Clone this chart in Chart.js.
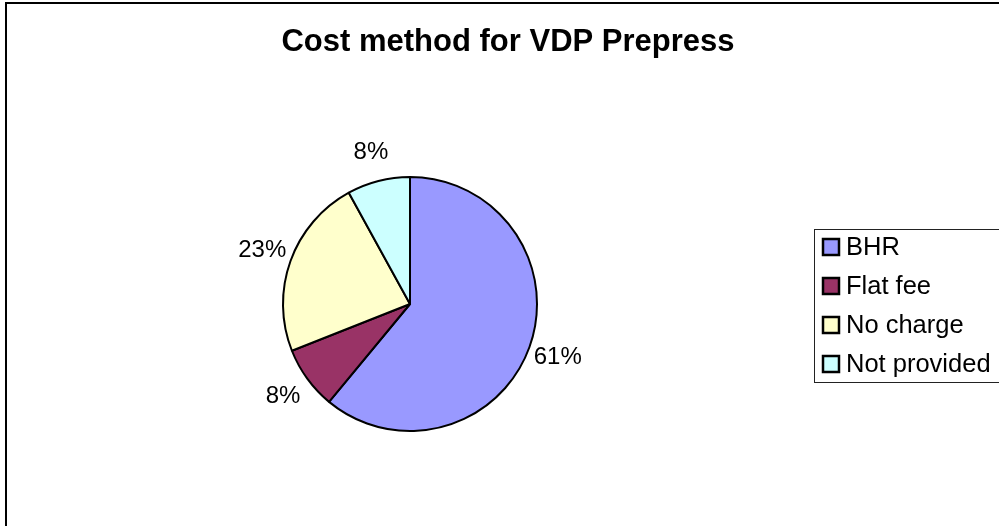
<!DOCTYPE html>
<html>
<head>
<meta charset="utf-8">
<script src="https://cdn.jsdelivr.net/npm/chart.js@4"></script>
<style>
  html, body { margin: 0; padding: 0; background: #fff; }
</style>
</head>
<body>
<canvas id="myChart" width="999" height="526"></canvas>
<script>
// 区分と割合 (%)
const labels = ['BHR', 'Flat fee', 'No charge', 'Not provided']
const shares = [61, 8, 23, 8]
const colors = ['#9999FF', '#993366', '#FFFFCC', '#CCFFFF']
const chartTitle = 'Cost method for VDP Prepress'

const FONT = '"Liberation Sans", Arial, sans-serif'

// 外枠とタイトル
const framePlugin = {
  id: 'frame',
  beforeDraw(chart) {
    const c = chart.ctx
    c.save()
    c.fillStyle = '#fff'
    c.fillRect(0, 0, chart.width, chart.height)
    c.strokeStyle = '#000'
    c.lineWidth = 2
    c.strokeRect(6, 3, 1100, 700)
    c.fillStyle = '#000'
    c.font = 'bold 31px ' + FONT
    c.textAlign = 'center'
    c.textBaseline = 'middle'
    c.fillText(chartTitle, 508, 42)
    c.restore()
  },
}

// 扇形の外側にパーセント表示
const pctPlugin = {
  id: 'pct',
  afterDatasetsDraw(chart) {
    const c = chart.ctx
    const meta = chart.getDatasetMeta(0)
    c.save()
    c.fillStyle = '#000'
    c.font = '24px ' + FONT
    c.textAlign = 'center'
    c.textBaseline = 'middle'
    meta.data.forEach((arc, i) => {
      const mid = (arc.startAngle + arc.endAngle) / 2
      const r = arc.outerRadius + 30
      c.fillText(shares[i] + '%', arc.x + Math.cos(mid) * r, arc.y + Math.sin(mid) * r)
    })
    c.restore()
  },
}

// 凡例 (枠付き)
const legendPlugin = {
  id: 'boxLegend',
  afterDraw(chart) {
    const c = chart.ctx
    const left = 814, top = 229, rowH = 39
    c.save()
    c.strokeStyle = '#222'
    c.lineWidth = 1
    c.strokeRect(left + 0.5, top + 0.5, 300, 153)
    c.font = '25.5px ' + FONT
    c.textBaseline = 'middle'
    labels.forEach((lab, i) => {
      const y = top + 18 + i * rowH
      c.fillStyle = colors[i]
      c.fillRect(823, y - 8, 16, 16)
      c.strokeStyle = '#000'
      c.lineWidth = 2.5
      c.strokeRect(823, y - 8, 16, 16)
      c.fillStyle = '#000'
      c.fillText(lab, 846, y + 1)
    })
    c.restore()
  },
}

const ctx = document.getElementById('myChart').getContext('2d')
const myChart = new Chart(ctx, {
  type: 'pie',
  data: {
    labels: labels,
    datasets: [
      {
        data: shares,
        backgroundColor: colors,
        borderColor: '#000',
        borderWidth: 2,
        radius: 127,
      },
    ],
  },
  options: {
    responsive: false,
    animation: false,
    layout: {
      padding: { left: 282, right: 461, top: 176, bottom: 94 },
    },
    plugins: {
      legend: { display: false },
      title: { display: false },
      tooltip: { enabled: false },
    },
  },
  plugins: [framePlugin, pctPlugin, legendPlugin],
})
</script>
</body>
</html>
